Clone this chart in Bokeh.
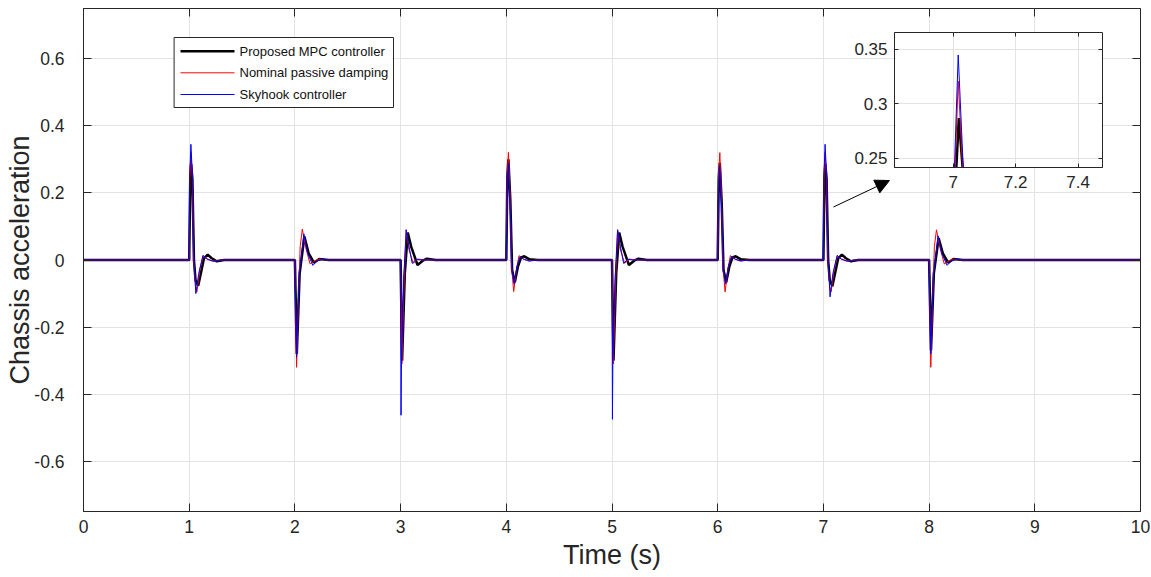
from bokeh.plotting import figure
from bokeh.models import (Range1d, FixedTicker, LinearAxis, Label, BoxAnnotation,
                          Arrow, NormalHead, Column)
from bokeh.embed import file_html
from bokeh.resources import INLINE

FONT = "Liberation Sans"
INK = "#262626"
GRID = "#e3e3e3"

# ---------------- data ----------------
x_ticks = [0, 1, 2, 3, 4, 5, 6, 7, 8, 9, 10]
x_tick_labels = ["0", "1", "2", "3", "4", "5", "6", "7", "8", "9", "10"]
y_ticks = [-0.6, -0.4, -0.2, 0, 0.2, 0.4, 0.6]
y_tick_labels = ["-0.6", "-0.4", "-0.2", "0", "0.2", "0.4", "0.6"]
inset_x_ticks = [7, 7.2, 7.4]
inset_x_tick_labels = ["7", "7.2", "7.4"]
inset_y_ticks = [0.25, 0.3, 0.35]
inset_y_tick_labels = ["0.25", "0.3", "0.35"]

series_names = ["Proposed MPC controller", "Nominal passive damping", "Skyhook controller"]
series_colors = ["#000000", "#ff0000", "#0000ff"]
series_widths = [2.5, 1, 1]

# Proposed MPC controller (black)
mpc_t = [0.0,
         1.0, 1.01, 1.018, 1.03, 1.045, 1.06, 1.085, 1.11, 1.14, 1.175, 1.21, 1.26, 1.33,
         2.0, 2.018, 2.045, 2.09, 2.13, 2.18, 2.23, 2.32,
         3.0, 3.014, 3.04, 3.068, 3.1, 3.16, 3.21, 3.25, 3.33,
         4.0, 4.01, 4.02, 4.038, 4.055, 4.08, 4.11, 4.14, 4.17, 4.22, 4.3,
         5.0, 5.014, 5.04, 5.068, 5.1, 5.16, 5.21, 5.25, 5.33,
         6.0, 6.01, 6.02, 6.038, 6.055, 6.08, 6.11, 6.14, 6.17, 6.22, 6.3,
         7.0, 7.01, 7.018, 7.03, 7.045, 7.06, 7.085, 7.11, 7.14, 7.175, 7.21, 7.26, 7.33,
         8.0, 8.018, 8.045, 8.09, 8.13, 8.18, 8.23, 8.32,
         10.0]
mpc_a = [0.0,
         0.0, 0.242, 0.287, 0.242, 0.0, -0.06, -0.077, -0.04, 0.005, 0.016, 0.006, -0.004, 0.0,
         0.0, -0.28, -0.04, 0.07, 0.02, -0.008, 0.003, 0.0,
         0.0, -0.30, -0.04, 0.082, 0.04, -0.015, -0.002, 0.004, 0.0,
         0.0, 0.25, 0.30, 0.18, -0.03, -0.067, -0.02, 0.008, 0.011, 0.002, 0.0,
         0.0, -0.30, -0.04, 0.082, 0.04, -0.015, -0.002, 0.004, 0.0,
         0.0, 0.245, 0.29, 0.17, -0.03, -0.067, -0.02, 0.008, 0.011, 0.002, 0.0,
         0.0, 0.242, 0.287, 0.242, 0.0, -0.06, -0.078, -0.04, 0.005, 0.016, 0.006, -0.004, 0.0,
         0.0, -0.27, -0.04, 0.065, 0.02, -0.008, 0.003, 0.0,
         0.0]

# Nominal passive damping (red)
pas_t = [0.0,
         1.0, 1.006, 1.016, 1.03, 1.042, 1.06, 1.073, 1.1, 1.132, 1.17, 1.22, 1.3,
         2.0, 2.016, 2.035, 2.05, 2.07, 2.1, 2.144, 2.19, 2.23, 2.3,
         3.0, 3.012, 3.035, 3.053, 3.08, 3.12, 3.16, 3.22,
         4.0, 4.008, 4.02, 4.035, 4.05, 4.07, 4.095, 4.12, 4.16, 4.21, 4.28,
         5.0, 5.012, 5.035, 5.053, 5.08, 5.12, 5.16, 5.22,
         6.0, 6.008, 6.02, 6.035, 6.05, 6.07, 6.095, 6.12, 6.16, 6.21, 6.28,
         7.0, 7.006, 7.016, 7.03, 7.042, 7.06, 7.073, 7.1, 7.132, 7.17, 7.22, 7.3,
         8.0, 8.016, 8.035, 8.05, 8.07, 8.1, 8.144, 8.19, 8.23, 8.3,
         10.0]
pas_a = [0.0,
         0.0, 0.242, 0.321, 0.242, 0.0, -0.08, -0.095, -0.03, 0.012, 0.004, -0.004, 0.0,
         0.0, -0.32, -0.1, 0.04, 0.092, 0.04, -0.012, -0.002, 0.003, 0.0,
         0.0, -0.31, -0.05, 0.09, 0.03, -0.01, 0.003, 0.0,
         0.0, 0.25, 0.321, 0.2, -0.02, -0.094, -0.03, 0.013, 0.003, -0.003, 0.0,
         0.0, -0.31, -0.05, 0.09, 0.03, -0.01, 0.003, 0.0,
         0.0, 0.25, 0.32, 0.2, -0.02, -0.095, -0.03, 0.013, 0.003, -0.003, 0.0,
         0.0, 0.242, 0.321, 0.242, 0.0, -0.08, -0.095, -0.03, 0.012, 0.004, -0.004, 0.0,
         0.0, -0.32, -0.1, 0.04, 0.09, 0.04, -0.012, -0.002, 0.003, 0.0,
         0.0]

# Skyhook controller (blue)
sky_t = [0.0,
         1.0, 1.004, 1.016, 1.032, 1.045, 1.063, 1.09, 1.13, 1.17, 1.24, 1.3,
         2.0, 2.016, 2.04, 2.085, 2.12, 2.17, 2.21, 2.26, 2.32,
         3.0, 3.004, 3.008, 3.03, 3.053, 3.08, 3.11, 3.15, 3.2,
         4.0, 4.01, 4.02, 4.038, 4.055, 4.075, 4.1, 4.13, 4.17, 4.22, 4.3,
         5.0, 5.004, 5.008, 5.03, 5.053, 5.08, 5.11, 5.15, 5.2,
         6.0, 6.01, 6.02, 6.038, 6.055, 6.075, 6.1, 6.13, 6.17, 6.22, 6.3,
         7.0, 7.004, 7.016, 7.032, 7.045, 7.063, 7.09, 7.13, 7.17, 7.24, 7.3,
         8.0, 8.016, 8.04, 8.085, 8.12, 8.17, 8.21, 8.26, 8.32,
         10.0]
sky_a = [0.0,
         0.0, 0.242, 0.345, 0.242, 0.0, -0.1, -0.04, 0.014, 0.002, -0.004, 0.0,
         0.0, -0.29, -0.05, 0.078, 0.02, -0.016, -0.003, 0.002, 0.0,
         0.0, -0.463, -0.31, -0.05, 0.09, 0.04, -0.01, 0.002, 0.0,
         0.0, 0.24, 0.288, 0.15, -0.03, -0.072, -0.02, 0.01, 0.002, -0.003, 0.0,
         0.0, -0.475, -0.30, -0.05, 0.09, 0.04, -0.01, 0.002, 0.0,
         0.0, 0.235, 0.28, 0.15, -0.03, -0.072, -0.02, 0.01, 0.002, -0.003, 0.0,
         0.0, 0.242, 0.345, 0.242, 0.0, -0.11, -0.04, 0.014, 0.002, -0.004, 0.0,
         0.0, -0.28, -0.05, 0.072, 0.02, -0.016, -0.003, 0.002, 0.0,
         0.0]

assert len(mpc_t) == len(mpc_a)
assert len(pas_t) == len(pas_a)
assert len(sky_t) == len(sky_a)

series_t = [mpc_t, pas_t, sky_t]
series_a = [mpc_a, pas_a, sky_a]

# annotation arrow (data coordinates of the main axes)
arrow_start = (7.095, 0.158)
arrow_end = (7.625, 0.237)

# legend box geometry (screen px, measured from the plot frame's bottom-left)
legend_left, legend_right, legend_top, legend_bottom = 90.6, 310.0, 474.0, 404.0
legend_rows_y = [460.3, 438.7, 417.0]
legend_line_x0, legend_line_x1 = 97.0, 151.0
legend_text_x = 156.0


def style_axis(ax, font_size, standoff, tick_in=8):
    ax.axis_line_color = INK
    ax.major_tick_line_color = INK
    ax.major_tick_in = tick_in
    ax.major_tick_out = 0
    ax.minor_tick_line_color = None
    ax.major_label_text_font = FONT
    ax.major_label_text_font_size = font_size
    ax.major_label_text_color = INK
    ax.major_label_standoff = standoff
    ax.axis_label_text_font = FONT
    ax.axis_label_text_font_style = "normal"
    ax.axis_label_text_color = INK


def mirror_axis(fig, ticks, side, tick_in):
    ax = LinearAxis(ticker=FixedTicker(ticks=ticks))
    style_axis(ax, "1px", 0, tick_in=tick_in)
    ax.axis_line_color = None
    ax.major_label_text_color = None
    fig.add_layout(ax, side)


def add_series(fig):
    for t, a, c, w in zip(series_t, series_a, series_colors, series_widths):
        fig.line(t, a, line_color=c, line_width=w)


# ---------------- main figure ----------------
p = figure(width=1151, height=577,
           x_range=Range1d(0, 10), y_range=Range1d(-0.75, 0.75),
           output_backend="svg", toolbar_location=None,
           min_border_left=83, min_border_right=11,
           min_border_top=8, min_border_bottom=66,
           background_fill_color="white", border_fill_color="white",
           outline_line_color=INK)

p.xaxis.ticker = FixedTicker(ticks=x_ticks)
p.yaxis.ticker = FixedTicker(ticks=y_ticks)
p.xaxis.major_label_overrides = dict(zip(x_ticks, x_tick_labels))
p.yaxis.major_label_overrides = dict(zip(y_ticks, y_tick_labels))
for ax in p.xaxis:
    style_axis(ax, "17.5px", 8)
for ax in p.yaxis:
    style_axis(ax, "17.5px", 19)
p.xaxis.axis_label = "Time (s)"
p.yaxis.axis_label = "Chassis acceleration"
p.xaxis.axis_label_text_font_size = "27px"
p.yaxis.axis_label_text_font_size = "27px"
p.xaxis.axis_label_standoff = 4
p.yaxis.axis_label_standoff = -4

mirror_axis(p, y_ticks, "right", 8)
mirror_axis(p, x_ticks, "above", 8)

p.xgrid.ticker = FixedTicker(ticks=x_ticks)
p.ygrid.ticker = FixedTicker(ticks=y_ticks)
p.grid.grid_line_color = GRID
p.grid.grid_line_width = 1

add_series(p)

# legend (drawn as annotations)
p.add_layout(BoxAnnotation(left=legend_left, right=legend_right,
                           top=legend_top, bottom=legend_bottom,
                           left_units="screen", right_units="screen",
                           top_units="screen", bottom_units="screen",
                           fill_color="white", fill_alpha=1,
                           line_color=INK, line_width=1, line_alpha=1))
for name, c, w, ry in zip(series_names, series_colors, series_widths, legend_rows_y):
    p.add_layout(Arrow(end=None, x_start=legend_line_x0, y_start=ry,
                       x_end=legend_line_x1, y_end=ry,
                       start_units="screen", end_units="screen",
                       line_color=c, line_width=w))
    p.add_layout(Label(x=legend_text_x, y=ry, x_units="screen", y_units="screen",
                       text=name, text_font=FONT, text_font_size="13px",
                       text_color="#111111", text_baseline="middle",
                       text_align="left"))

p.add_layout(Arrow(end=NormalHead(size=14, fill_color="black", line_color="black",
                                  line_width=1),
                   x_start=arrow_start[0], y_start=arrow_start[1],
                   x_end=arrow_end[0], y_end=arrow_end[1],
                   line_color="black", line_width=1))

# ---------------- inset figure ----------------
q = figure(width=302, height=171,
           x_range=Range1d(6.812, 7.478), y_range=Range1d(0.2417, 0.3656),
           output_backend="svg", toolbar_location=None,
           min_border_left=83, min_border_right=11,
           min_border_top=6, min_border_bottom=30,
           background_fill_color="white", border_fill_color=None,
           border_fill_alpha=0, outline_line_color=INK)
q.xaxis.ticker = FixedTicker(ticks=inset_x_ticks)
q.yaxis.ticker = FixedTicker(ticks=inset_y_ticks)
q.xaxis.major_label_overrides = dict(zip(inset_x_ticks, inset_x_tick_labels))
q.yaxis.major_label_overrides = dict(zip(inset_y_ticks, inset_y_tick_labels))
for ax in q.xaxis:
    style_axis(ax, "17px", 8, tick_in=4)
for ax in q.yaxis:
    style_axis(ax, "17px", 7, tick_in=4)
mirror_axis(q, inset_y_ticks, "right", 4)
mirror_axis(q, inset_x_ticks, "above", 4)
q.xgrid.ticker = FixedTicker(ticks=inset_x_ticks)
q.ygrid.ticker = FixedTicker(ticks=inset_y_ticks)
q.grid.grid_line_color = GRID
add_series(q)

q.margin = (-551, 0, 0, 811)
p.margin = (0, 0, 0, 0)

layout = Column(children=[p, q])

open("out.html", "w").write(file_html(layout, INLINE))
